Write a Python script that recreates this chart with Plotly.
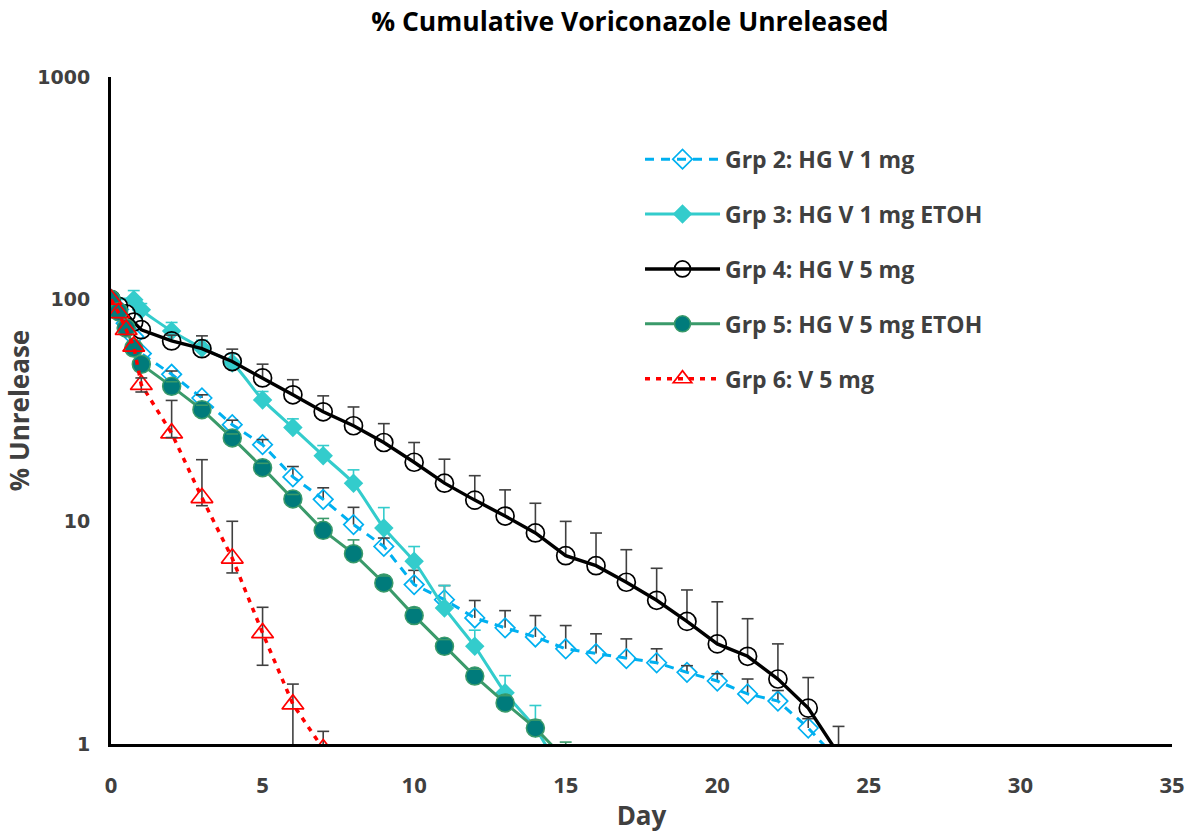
import plotly.graph_objects as go

# ---------------- data ----------------
grp2_day = [0, 0.25, 0.5, 0.75, 1, 2, 3, 4, 5, 6, 7, 8, 9, 10, 11, 12, 13, 14, 15, 16, 17, 18, 19, 20, 21, 22, 23, 24]
grp2_val = [100, 90, 78, 68, 57, 46, 36, 27.3, 22.2, 15.9, 12.6, 9.7, 7.74, 5.21, 4.46, 3.69, 3.33, 3.03, 2.68, 2.55, 2.42, 2.32, 2.10, 1.92, 1.68, 1.56, 1.18, 0.84]
grp2_err = [0, 0, 0, 0, 0, 1.6, 1.2, 1.3, 1.2, 1.8, 1.6, 1.9, 0.7, 0.83, 0.7, 0.73, 0.65, 0.75, 0.73, 0.58, 0.55, 0.36, 0.15, 0.15, 0.28, 0.18, 0.12, 0]

grp3_day = [0, 0.75, 1, 2, 3, 4, 5, 6, 7, 8, 9, 10, 11, 12, 13, 14, 15]
grp3_val = [100, 99.5, 89.7, 72, 60.4, 51.7, 35.3, 26.5, 19.8, 14.9, 9.37, 6.63, 4.09, 2.75, 1.70, 1.18, 0.68]
grp3_err = [0, 10, 6, 6.7, 5, 5, 3.2, 2.5, 2.2, 2.2, 2.2, 1.1, 1.07, 0.5, 0.33, 0.31, 0]

grp4_day = [0, 0.25, 0.5, 0.75, 1, 2, 3, 4, 5, 6, 7, 8, 9, 10, 11, 12, 13, 14, 15, 16, 17, 18, 19, 20, 21, 22, 23, 24]
grp4_val = [100, 93, 86, 79, 73, 65, 60, 52.5, 44.3, 37.2, 31.2, 27.0, 22.7, 18.5, 14.9, 12.5, 10.6, 8.9, 7.03, 6.34, 5.34, 4.43, 3.56, 2.82, 2.48, 1.96, 1.45, 0.9]
grp4_err = [0, 0, 0, 0, 0, 4, 8.5, 7.2, 6.8, 6.3, 5.6, 5.8, 4.9, 4.2, 4.2, 3.6, 3.3, 3.2, 3.0, 2.55, 2.14, 1.74, 1.37, 1.54, 1.18, 0.86, 0.54, 0.3]

grp5_day = [0, 0.25, 0.5, 0.75, 1, 2, 3, 4, 5, 6, 7, 8, 9, 10, 11, 12, 13, 14, 15]
grp5_val = [100, 88, 74.3, 60.4, 51, 40.6, 31.9, 23.8, 17.5, 12.65, 9.14, 7.18, 5.3, 3.78, 2.75, 2.02, 1.53, 1.18, 0.85]
grp5_err = [0, 0, 0, 0, 0, 2, 1.5, 1, 0.8, 0.6, 1.2, 1.1, 0.4, 0.3, 0.2, 0.15, 0.12, 0.1, 0.17]

grp6_day = [0, 0.25, 0.5, 0.75, 1, 2, 3, 4, 5, 6, 7]
grp6_val = [100, 87, 73, 61.4, 41.3, 25, 12.8, 6.84, 3.16, 1.51, 0.95]
grp6_err_plus = [0, 0, 0, 0, 3, 10.1, 6.2, 3.2, 0.96, 0.35, 0.19]
grp6_err_minus = [0, 0, 0, 0, 3, 1.1, 1.0, 0.96, 0.9, 0.9, 0.6]

x_ticks = [0, 5, 10, 15, 20, 25, 30, 35]
y_ticks = [1, 10, 100, 1000]
y_tick_text = ["1", "10", "100", "1000"]

names = ["Grp 2: HG V 1 mg", "Grp 3: HG V 1 mg ETOH", "Grp 4: HG V 5 mg",
         "Grp 5: HG V 5 mg ETOH", "Grp 6: V 5 mg"]

TXT = "#404040"
FONT = "Open Sans"

fig = go.Figure()


def add_series(name, x, y, plus, minus, line, marker, err_color, group):
    fig.add_trace(go.Scatter(
        x=x, y=y, name=name, mode="lines+markers", legendgroup=group,
        line=line, marker=marker,
        error_y=dict(type="data", symmetric=False, array=plus, arrayminus=minus,
                     color=err_color, thickness=1.6, width=0),
    ))
    # caps of the error bars
    cx, cy = [], []
    for xi, yi, p, m in zip(x, y, plus, minus):
        if p > 0:
            cx.append(xi); cy.append(yi + p)
        if m > 0:
            cx.append(xi); cy.append(yi - m)
    fig.add_trace(go.Scatter(
        x=cx, y=cy, mode="markers", legendgroup=group, showlegend=False,
        hoverinfo="skip",
        marker=dict(symbol="line-ew", size=8.5, color=err_color,
                    line=dict(color=err_color, width=1.6)),
    ))


zeros = lambda n: [0] * n

add_series(names[0], grp2_day, grp2_val, grp2_err, zeros(len(grp2_err)),
           dict(color="#00B0F0", width=3, dash="9px,7px"),
           dict(symbol="diamond-open", size=15, color="#00B0F0", line=dict(width=1.7, color="#00B0F0")),
           "#404040", "g2")
add_series(names[1], grp3_day, grp3_val, grp3_err, zeros(len(grp3_err)),
           dict(color="#33CCCC", width=3, shape="spline", smoothing=0.6),
           dict(symbol="diamond", size=15, color="#33CCCC", line=dict(width=0)),
           "#33CCCC", "g3")
add_series(names[2], grp4_day, grp4_val, grp4_err, zeros(len(grp4_err)),
           dict(color="#000000", width=3.4),
           dict(symbol="circle-open", size=18, color="#000000", line=dict(width=1.7, color="#000000")),
           "#404040", "g4")
add_series(names[3], grp5_day, grp5_val, grp5_err, zeros(len(grp5_err)),
           dict(color="#3A9A6A", width=3),
           dict(symbol="circle", size=18, color="#007B7B", line=dict(width=1.5, color="#3A9A6A")),
           "#3A9A6A", "g5")
add_series(names[4], grp6_day, grp6_val, grp6_err_plus, grp6_err_minus,
           dict(color="#FF0000", width=3.5, dash="5px,6px"),
           dict(symbol="triangle-up-open", size=19, color="#FF0000", line=dict(width=1.7, color="#FF0000")),
           "#404040", "g6")

fig.update_layout(
    width=1193, height=833,
    margin=dict(l=111, r=21, t=77, b=89),
    paper_bgcolor="white", plot_bgcolor="white",
    title=dict(text="% Cumulative Voriconazole Unreleased",
               font=dict(family=FONT, size=26.5, color="black", weight="bold"),
               x=0.528, xanchor="center", y=0.974, yanchor="middle"),
    legend=dict(x=0.4986, xanchor="left", y=0.909, yanchor="top",
                font=dict(family=FONT, size=23, color=TXT, weight="bold"),
                bgcolor="rgba(0,0,0,0)", tracegroupgap=22, itemwidth=75),
    showlegend=True,
)

fig.update_xaxes(
    range=[0, 35], tickvals=x_ticks, showgrid=False, zeroline=False, automargin=False,
    showline=True, linecolor="black", linewidth=3, ticks="",
    tickfont=dict(family=FONT, size=22, color=TXT, weight="bold"),
    ticklabelstandoff=20,
    title=dict(text="Day", font=dict(family=FONT, size=26, color=TXT, weight="bold"), standoff=9),
)
fig.update_yaxes(
    type="log", range=[0, 3], tickvals=y_ticks, ticktext=y_tick_text, automargin=False,
    showgrid=False, zeroline=False,
    showline=True, linecolor="black", linewidth=3, ticks="",
    tickfont=dict(family="DejaVu Sans", size=19, color=TXT, weight="bold"),
    ticklabelstandoff=14,
    title=dict(text="% Unrelease", font=dict(family=FONT, size=26, color=TXT, weight="bold"), standoff=1),
)

fig.write_html("out.html", config={"displayModeBar": False},
               post_script="document.body.style.margin='0px';")
